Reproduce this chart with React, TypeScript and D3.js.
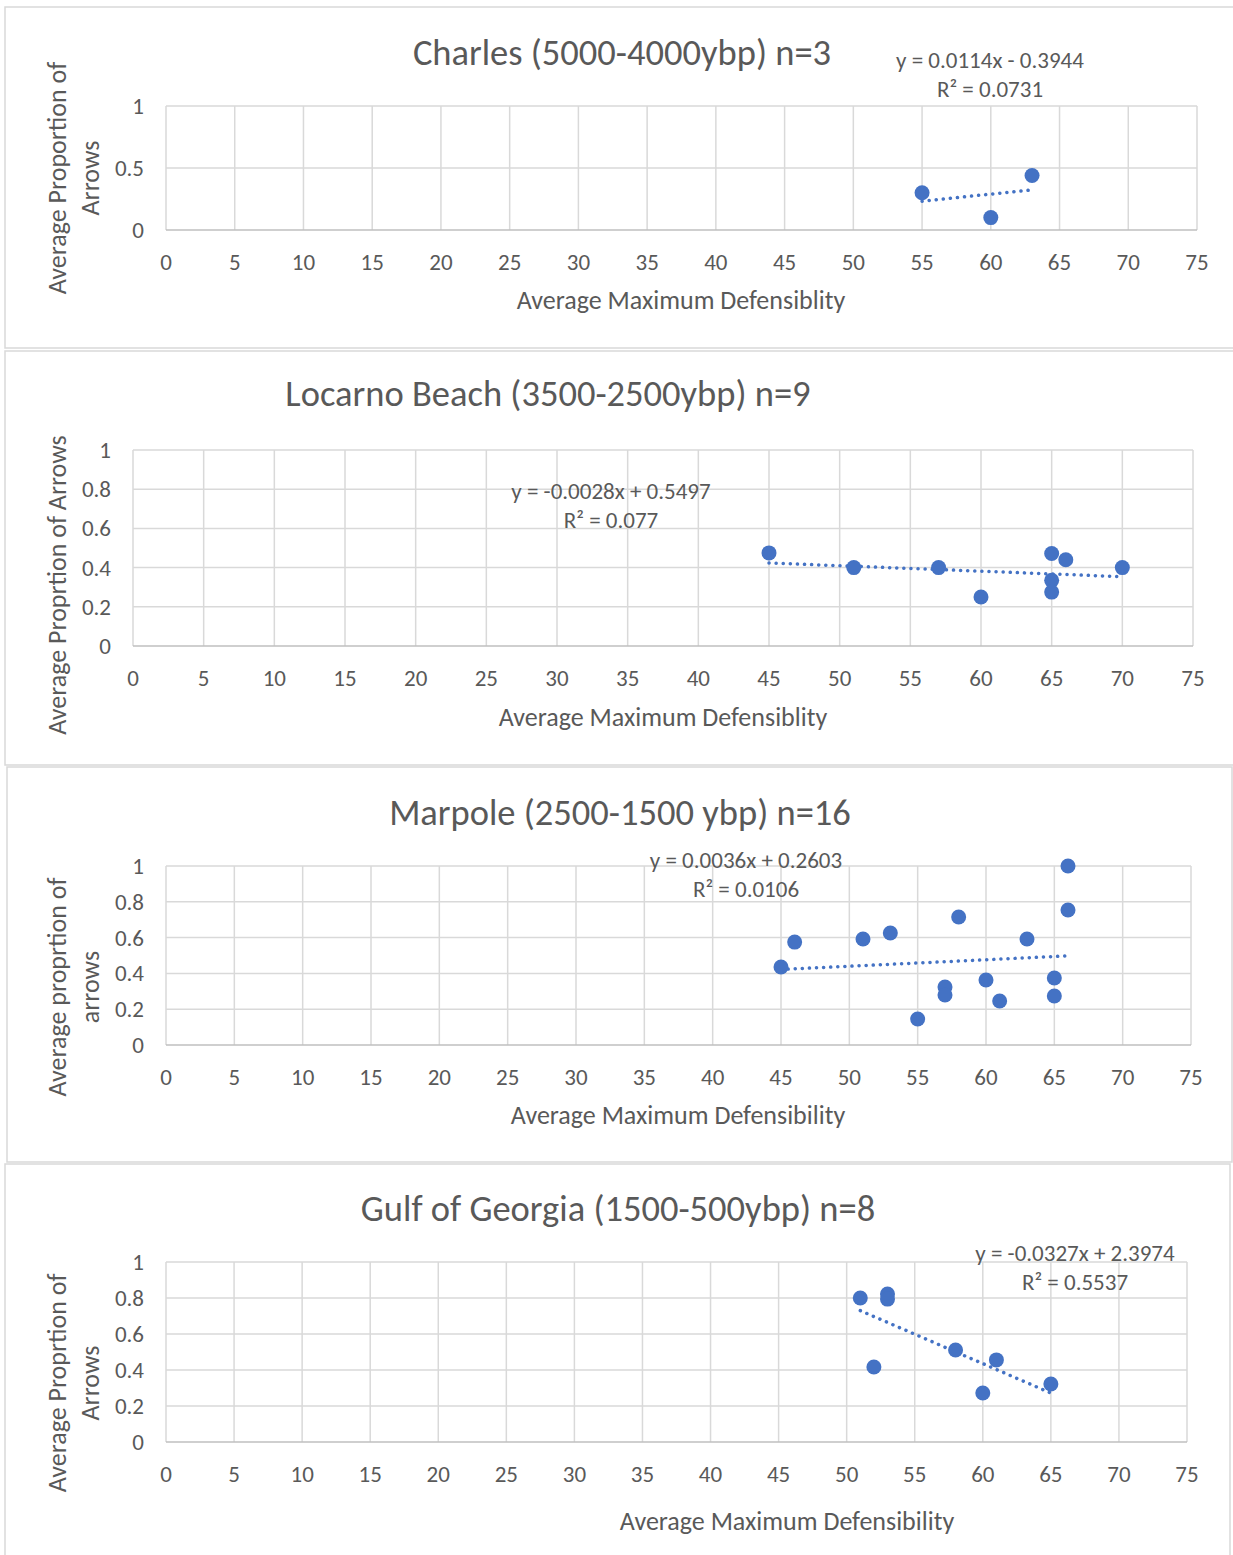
import React, { useEffect, useRef } from "react"
import * as d3 from "d3"

// x = average maximum defensibility, y = average proportion of arrows
const charlesX = [55, 60, 63]
const charlesY = [0.3, 0.1, 0.44]

const locarnoX = [45, 51, 57, 60, 65, 65, 65, 66, 70]
const locarnoY = [0.475, 0.4, 0.4, 0.25, 0.472, 0.335, 0.275, 0.44, 0.4]

const marpoleX = [45, 46, 51, 53, 55, 57, 57, 58, 60, 61, 63, 65, 65, 66, 66]
const marpoleY = [0.436, 0.575, 0.592, 0.626, 0.145, 0.324, 0.279, 0.715, 0.363, 0.246, 0.592, 0.374, 0.274, 1.0, 0.754]

const gulfX = [51, 52, 53, 53, 58, 60, 61, 65]
const gulfY = [0.8, 0.417, 0.822, 0.794, 0.511, 0.272, 0.456, 0.322]

const xTicks = [0, 5, 10, 15, 20, 25, 30, 35, 40, 45, 50, 55, 60, 65, 70, 75]
const yTicksHalf = [0, 0.5, 1]
const yTicksFifth = [0, 0.2, 0.4, 0.6, 0.8, 1]

const titles = [
  "Charles (5000-4000ybp) n=3",
  "Locarno Beach (3500-2500ybp) n=9",
  "Marpole (2500-1500 ybp) n=16",
  "Gulf of Georgia (1500-500ybp) n=8",
]
const xTitles = [
  "Average Maximum Defensiblity",
  "Average Maximum Defensiblity",
  "Average Maximum Defensibility",
  "Average Maximum Defensibility",
]
const yTitles = [
  ["Average Proportion of", "Arrows"],
  ["Average Proprtion of Arrows"],
  ["Average proprtion of", "arrows"],
  ["Average Proprtion of", "Arrows"],
]
// trendline slope / intercept as printed by excel
const slopes = [0.0114, -0.0028, 0.0036, -0.0327]
const intercepts = [-0.3944, 0.5497, 0.2603, 2.3974]
const eqLabels = ["y = 0.0114x - 0.3944", "y = -0.0028x + 0.5497", "y = 0.0036x + 0.2603", "y = -0.0327x + 2.3974"]
const r2Labels = ["R² = 0.0731", "R² = 0.077", "R² = 0.0106", "R² = 0.5537"]

const panels = [
  { xs: charlesX, ys: charlesY, yTicks: yTicksHalf, box: [5, 7, 1240, 348], left: 166, right: 1197, top: 106, bottom: 230, titleX: 622, titleY: 52, xtY: 300, xtX: 681, ytX: 57, ytY: 178, eqX: 990, eqY: 60 },
  { xs: locarnoX, ys: locarnoY, yTicks: yTicksFifth, box: [5, 351, 1240, 765], left: 133, right: 1193, top: 450, bottom: 646, titleX: 548, titleY: 393, xtY: 717, xtX: 663, ytX: 57, ytY: 585, eqX: 611, eqY: 491 },
  { xs: marpoleX, ys: marpoleY, yTicks: yTicksFifth, box: [7, 767, 1232, 1162], left: 166, right: 1191, top: 866, bottom: 1045, titleX: 620, titleY: 812, xtY: 1115, xtX: 678, ytX: 57, ytY: 987, eqX: 746, eqY: 860 },
  { xs: gulfX, ys: gulfY, yTicks: yTicksFifth, box: [5, 1164, 1230, 1570], left: 166, right: 1187, top: 1262, bottom: 1442, titleX: 618, titleY: 1208, xtY: 1521, xtX: 787, ytX: 57, ytY: 1383, eqX: 1075, eqY: 1253 },
]

const FONT = "Carlito, Lato, 'Open Sans', sans-serif"
const TXT = "#595959"
const BLUE = "#4472C4"
const GRID = "#d9d9d9"

export default function App() {
  const ref = useRef<SVGSVGElement>(null)

  useEffect(() => {
    const svg = d3.select(ref.current)
    svg.selectAll("*").remove()
    svg.append("rect").attr("width", 1233).attr("height", 1555).attr("fill", "white")

    panels.forEach((p, k) => {
      const g = svg.append("g")
      const [bx0, by0, bx1, by1] = p.box
      g.append("rect")
        .attr("x", bx0).attr("y", by0)
        .attr("width", bx1 - bx0).attr("height", by1 - by0)
        .attr("fill", "white").attr("stroke", GRID).attr("stroke-width", 1.5)

      const x = d3.scaleLinear().domain([0, 75]).range([p.left, p.right])
      const y = d3.scaleLinear().domain([0, 1]).range([p.bottom, p.top])

      // grid
      g.append("g").selectAll("line").data(xTicks).enter().append("line")
        .attr("x1", d => x(d)).attr("x2", d => x(d))
        .attr("y1", p.top).attr("y2", p.bottom)
        .attr("stroke", GRID).attr("stroke-width", 1.5)
      g.append("g").selectAll("line").data(p.yTicks).enter().append("line")
        .attr("x1", p.left).attr("x2", p.right)
        .attr("y1", d => y(d)).attr("y2", d => y(d))
        .attr("stroke", d => (d === 0 ? "#bfbfbf" : GRID)).attr("stroke-width", 1.5)

      // tick labels
      g.append("g").selectAll("text").data(xTicks).enter().append("text")
        .attr("x", d => x(d)).attr("y", p.bottom + 32)
        .attr("dy", "0.35em")
        .attr("text-anchor", "middle")
        .attr("font-family", FONT).attr("font-size", 23).attr("fill", TXT)
        .text(d => d)
      g.append("g").selectAll("text").data(p.yTicks).enter().append("text")
        .attr("x", p.left - 22).attr("y", d => y(d))
        .attr("dy", "0.35em")
        .attr("text-anchor", "end")
        .attr("font-family", FONT).attr("font-size", 23).attr("fill", TXT)
        .text(d => d)

      // title
      g.append("text")
        .attr("x", p.titleX).attr("y", p.titleY).attr("dy", "0.35em")
        .attr("text-anchor", "middle")
        .attr("font-family", FONT).attr("font-size", 36.5).attr("fill", TXT)
        .text(titles[k])

      // axis titles
      g.append("text")
        .attr("x", p.xtX).attr("y", p.xtY).attr("dy", "0.35em")
        .attr("text-anchor", "middle")
        .attr("font-family", FONT).attr("font-size", 26).attr("fill", TXT)
        .text(xTitles[k])
      yTitles[k].forEach((line, i) => {
        g.append("text")
          .attr("transform", `translate(${p.ytX + i * 33},${p.ytY}) rotate(-90)`)
          .attr("dy", "0.35em")
          .attr("text-anchor", "middle")
          .attr("font-family", FONT).attr("font-size", 26).attr("fill", TXT)
          .text(line)
      })

      // trendline
      const ext = d3.extent(p.xs) as [number, number]
      g.append("line")
        .attr("x1", x(ext[0])).attr("y1", y(slopes[k] * ext[0] + intercepts[k]))
        .attr("x2", x(ext[1])).attr("y2", y(slopes[k] * ext[1] + intercepts[k]))
        .attr("stroke", BLUE).attr("stroke-width", 3.5)
        .attr("stroke-dasharray", "0.1,7").attr("stroke-linecap", "round")

      // points
      g.append("g").selectAll("circle").data(p.xs).enter().append("circle")
        .attr("cx", d => x(d)).attr("cy", (d, i) => y(p.ys[i]))
        .attr("r", 7.5).attr("fill", BLUE)

      // equation
      g.append("text")
        .attr("x", p.eqX).attr("y", p.eqY).attr("dy", "0.35em")
        .attr("text-anchor", "middle")
        .attr("font-family", FONT).attr("font-size", 23).attr("fill", TXT)
        .text(eqLabels[k])
      g.append("text")
        .attr("x", p.eqX).attr("y", p.eqY + 29).attr("dy", "0.35em")
        .attr("text-anchor", "middle")
        .attr("font-family", FONT).attr("font-size", 23).attr("fill", TXT)
        .text(r2Labels[k])
    })
  }, [])

  return (
    <svg ref={ref} width={1233} height={1555}
      style={{ position: "absolute", left: 0, top: 0, display: "block" }} />
  )
}
